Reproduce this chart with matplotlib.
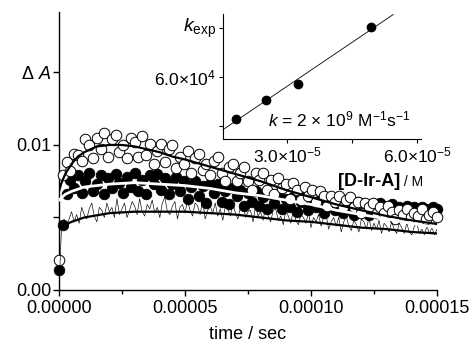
import numpy as np
import matplotlib
matplotlib.use('Agg')
import matplotlib.pyplot as plt
from matplotlib.ticker import FixedLocator, FixedFormatter

plt.rcParams['font.family'] = ['Liberation Sans', 'DejaVu Sans']
plt.rcParams['mathtext.fontset'] = 'custom'
plt.rcParams['mathtext.rm'] = 'Liberation Sans'
plt.rcParams['mathtext.it'] = 'Liberation Sans:italic'
plt.rcParams['mathtext.bf'] = 'Liberation Sans:bold'

# ---------------- data (main plot) ----------------
open_step_us = 1.5
open_vals = [0.0021, 0.0079, 0.0088, 0.0082, 0.0094, 0.0093, 0.0089, 0.0104, 0.0100, 0.0091,
             0.0105, 0.0097, 0.0108, 0.0092, 0.0104, 0.0107, 0.0095, 0.0100, 0.0091, 0.0105,
             0.0102, 0.0092, 0.0106, 0.0093, 0.0101, 0.0087, 0.0096, 0.0101, 0.0088, 0.0097,
             0.0100, 0.0084, 0.0092, 0.0087, 0.0096, 0.0081, 0.0091, 0.0094, 0.0083, 0.0087,
             0.0079, 0.0089, 0.0092, 0.0081, 0.0075, 0.0085, 0.0087, 0.0075, 0.0081, 0.0085,
             0.0075, 0.0069, 0.0081, 0.0076, 0.0081, 0.0069, 0.0076, 0.0066, 0.0077, 0.0070,
             0.0073, 0.0063, 0.0074, 0.0069, 0.0062, 0.0071, 0.0065, 0.0069, 0.0061, 0.0068,
             0.0065, 0.0058, 0.0065, 0.0061, 0.0065, 0.0057, 0.0062, 0.0064, 0.0057, 0.0061,
             0.0053, 0.0060, 0.0057, 0.0060, 0.0053, 0.0057, 0.0053, 0.0058, 0.0054, 0.0049,
             0.0055, 0.0052, 0.0056, 0.0050, 0.0053, 0.0051, 0.0056, 0.0049, 0.0052, 0.0054,
             0.0050]

filled_step_us = 1.5
filled_vals = [0.0014, 0.0045, 0.0066, 0.0076, 0.0070, 0.0079, 0.0067, 0.0075, 0.0081, 0.0068,
               0.0073, 0.0079, 0.0066, 0.0077, 0.0070, 0.0080, 0.0074, 0.0067, 0.0078, 0.0071,
               0.0081, 0.0068, 0.0076, 0.0066, 0.0079, 0.0073, 0.0080, 0.0069, 0.0077, 0.0066,
               0.0073, 0.0078, 0.0068, 0.0075, 0.0063, 0.0071, 0.0075, 0.0065, 0.0072, 0.0060,
               0.0073, 0.0067, 0.0073, 0.0061, 0.0068, 0.0059, 0.0070, 0.0065, 0.0069, 0.0058,
               0.0067, 0.0061, 0.0068, 0.0058, 0.0064, 0.0056, 0.0066, 0.0060, 0.0066, 0.0056,
               0.0063, 0.0057, 0.0064, 0.0054, 0.0061, 0.0064, 0.0055, 0.0061, 0.0057, 0.0062,
               0.0053, 0.0059, 0.0062, 0.0055, 0.0060, 0.0053, 0.0060, 0.0057, 0.0052, 0.0061,
               0.0055, 0.0059, 0.0052, 0.0059, 0.0055, 0.0060, 0.0053, 0.0057, 0.0059, 0.0053,
               0.0057, 0.0051, 0.0058, 0.0055, 0.0057, 0.0052, 0.0057, 0.0056, 0.0053, 0.0057,
               0.0056]

noise_step_us = 1.0
noise_vals = [0.0000,
              0.0043, 0.0049, 0.0043, 0.0049, 0.0054, 0.0047, 0.0052, 0.0046, 0.0057, 0.0052,
              0.0049, 0.0056, 0.0060, 0.0051, 0.0047, 0.0057, 0.0055, 0.0050, 0.0060, 0.0054,
              0.0057, 0.0050, 0.0063, 0.0052, 0.0056, 0.0060, 0.0050, 0.0055, 0.0061, 0.0058,
              0.0052, 0.0063, 0.0054, 0.0051, 0.0059, 0.0056, 0.0062, 0.0053, 0.0057, 0.0050,
              0.0060, 0.0064, 0.0054, 0.0052, 0.0058, 0.0061, 0.0049, 0.0057, 0.0059, 0.0053,
              0.0062, 0.0055, 0.0051, 0.0060, 0.0058, 0.0052, 0.0062, 0.0049, 0.0055, 0.0058,
              0.0053, 0.0060, 0.0051, 0.0056, 0.0048, 0.0058, 0.0056, 0.0051, 0.0060, 0.0053,
              0.0049, 0.0057, 0.0061, 0.0050, 0.0054, 0.0055, 0.0047, 0.0058, 0.0051, 0.0054,
              0.0048, 0.0058, 0.0051, 0.0047, 0.0055, 0.0056, 0.0048, 0.0051, 0.0045, 0.0055,
              0.0051, 0.0046, 0.0056, 0.0048, 0.0045, 0.0052, 0.0050, 0.0046, 0.0054, 0.0043,
              0.0050, 0.0047, 0.0052, 0.0044, 0.0050, 0.0052, 0.0042, 0.0047, 0.0050, 0.0044,
              0.0050, 0.0040, 0.0047, 0.0051, 0.0044, 0.0041, 0.0048, 0.0045, 0.0040, 0.0049,
              0.0047, 0.0042, 0.0050, 0.0041, 0.0046, 0.0042, 0.0048, 0.0039, 0.0046, 0.0044,
              0.0040, 0.0047, 0.0042, 0.0039, 0.0046, 0.0043, 0.0039, 0.0046, 0.0040, 0.0038,
              0.0044, 0.0046, 0.0039, 0.0042, 0.0038, 0.0044, 0.0039, 0.0043, 0.0038, 0.0042]

fit_top_t_us = [0, 1, 2.5, 5, 7.5, 10, 15, 20, 25, 30, 35, 40, 45, 50, 60, 70, 80, 90, 100,
                110, 120, 130, 140, 150]
fit_top = [0.0068, 0.0074, 0.0080, 0.0087, 0.0092, 0.0095, 0.0099, 0.0100, 0.0100, 0.0099,
           0.0097, 0.0095, 0.0092, 0.0090, 0.0085, 0.0080, 0.0075, 0.0069, 0.0064, 0.0059,
           0.0055, 0.0051, 0.0048, 0.00455]

fit_mid_t_us = [0, 2.5, 5, 10, 15, 20, 30, 40, 50, 60, 70, 80, 90, 100, 110, 120, 130, 140, 150]
fit_mid = [0.0062, 0.0066, 0.0068, 0.0071, 0.0072, 0.0073, 0.0074, 0.0073, 0.0072, 0.0070,
           0.0067, 0.0065, 0.0062, 0.0059, 0.0055, 0.0052, 0.0049, 0.0046, 0.0043]

fit_low_t_us = [0, 2.5, 5, 10, 20, 30, 40, 50, 60, 70, 80, 90, 100, 110, 120, 130, 140, 150]
fit_low = [0.0042, 0.0045, 0.0047, 0.0050, 0.0053, 0.0054, 0.0054, 0.0054, 0.0053, 0.0052,
           0.0050, 0.0048, 0.0047, 0.0045, 0.0043, 0.0042, 0.0040, 0.0039]

main_xticks = [0.0, 0.00005, 0.00010, 0.00015]
main_xticklabels = ['0.00000', '0.00005', '0.00010', '0.00015']
main_yticks = [0.0, 0.005, 0.01, 0.015]
main_yticklabels = ['0.00', '', '0.01', 'Δ $A$']

# ---------------- data (inset) ----------------
conc = [1.816e-5, 2.515e-5, 3.24e-5, 4.945e-5]
kexp = [4.714e4, 5.296e4, 5.795e4, 7.52e4]
inset_xticks = [1.5e-5, 3.0e-5, 4.5e-5, 6.0e-5]
inset_xticklabels = ['', r'$3.0{\times}10^{-5}$', '', r'$6.0{\times}10^{-5}$']
inset_yticks = [4.5e4, 6.0e4, 7.5e4]
inset_yticklabels = ['', r'$6.0{\times}10^{4}$', '']

# ---------------- figure ----------------
W, H = 473, 347
fig = plt.figure(figsize=(W / 100, H / 100), dpi=100)

def frac(x0, y0, x1, y1):
    return [x0 / W, 1 - y1 / H, (x1 - x0) / W, (y1 - y0) / H]

ax = fig.add_axes(frac(59, 12, 437, 290))
t_open = np.arange(len(open_vals)) * open_step_us * 1e-6
t_filled = np.arange(len(filled_vals)) * filled_step_us * 1e-6
t_noise = np.arange(len(noise_vals)) * noise_step_us * 1e-6

ax.plot(t_filled, filled_vals, 'o', ms=7.6, mfc='black', mec='black', mew=0.6,
        clip_on=False, zorder=2)
ax.plot(t_open, open_vals, 'o', ms=7.6, mfc='white', mec='black', mew=0.7,
        clip_on=False, zorder=3)
ax.plot(t_noise, noise_vals, '-', color='black', lw=0.45, zorder=4)
ax.plot(np.array(fit_top_t_us) * 1e-6, fit_top, '-', color='black', lw=1.6,
        solid_joinstyle='round', zorder=5)
ax.plot(np.array(fit_mid_t_us) * 1e-6, fit_mid, '-', color='white', lw=2.0,
        solid_joinstyle='round', zorder=5)
ax.plot(np.array(fit_low_t_us) * 1e-6, fit_low, '-', color='black', lw=1.6,
        solid_joinstyle='round', zorder=5)

ax.set_xlim(0, 0.00015)
ax.set_ylim(0, 0.01917)
for s in ['top', 'right']:
    ax.spines[s].set_visible(False)
for s in ['left', 'bottom']:
    ax.spines[s].set_linewidth(1.0)
ax.xaxis.set_major_locator(FixedLocator(main_xticks))
ax.xaxis.set_major_formatter(FixedFormatter(main_xticklabels))
ax.xaxis.set_minor_locator(FixedLocator([0.000025, 0.000075, 0.000125]))
ax.yaxis.set_major_locator(FixedLocator(main_yticks))
ax.yaxis.set_major_formatter(FixedFormatter(main_yticklabels))
ax.tick_params(axis='both', which='major', direction='out', length=4, width=1.0,
               labelsize=13)
ax.tick_params(axis='x', which='major', pad=3)
ax.tick_params(axis='y', which='major', pad=1.5)
ax.tick_params(axis='x', which='minor', direction='out', length=3, width=1.0)
ax.set_xlabel('time / sec', fontsize=13, labelpad=7)

# ---------------- inset ----------------
ins = fig.add_axes(frac(223, 14, 421, 139))
ins.patch.set_alpha(0)
ins.plot(conc, kexp, 'o', ms=6, color='black', zorder=3, clip_on=False)
slope, icpt = np.polyfit(conc, kexp, 1)
fit_x = np.array([1.52e-5, 5.45e-5])
ins.plot(fit_x, slope * fit_x + icpt, '-', color='black', lw=0.6, zorder=2, clip_on=False)
ins.set_xlim(1.52e-5, 6.09e-5)
ins.set_ylim(4.10e4, 7.93e4)
for s in ['top', 'right']:
    ins.spines[s].set_visible(False)
for s in ['left', 'bottom']:
    ins.spines[s].set_linewidth(0.8)
ins.xaxis.set_major_locator(FixedLocator(inset_xticks))
ins.xaxis.set_major_formatter(FixedFormatter(inset_xticklabels))
ins.yaxis.set_major_locator(FixedLocator(inset_yticks))
ins.yaxis.set_major_formatter(FixedFormatter(inset_yticklabels))
ins.tick_params(axis='both', direction='out', length=3, width=0.8, labelsize=12.5, pad=2)

fig.text(183 / W, 1 - 28 / H, r'$k_{\mathrm{exp}}$', fontsize=14, ha='left', va='center')
fig.text(268 / W, 1 - 119 / H, r'$k$ = 2 × 10$^{9}$ M$^{-1}$s$^{-1}$', fontsize=12.5,
         ha='left', va='center')
t1 = fig.text(338 / W, 1 - 182 / H, '[D-Ir-A]', fontsize=13, fontweight='bold',
              ha='left', va='center')
ax.annotate(' / M', xy=(1.0, 0.5), xycoords=t1, fontsize=10, ha='left', va='center')

fig.savefig('out.png', dpi=100)
